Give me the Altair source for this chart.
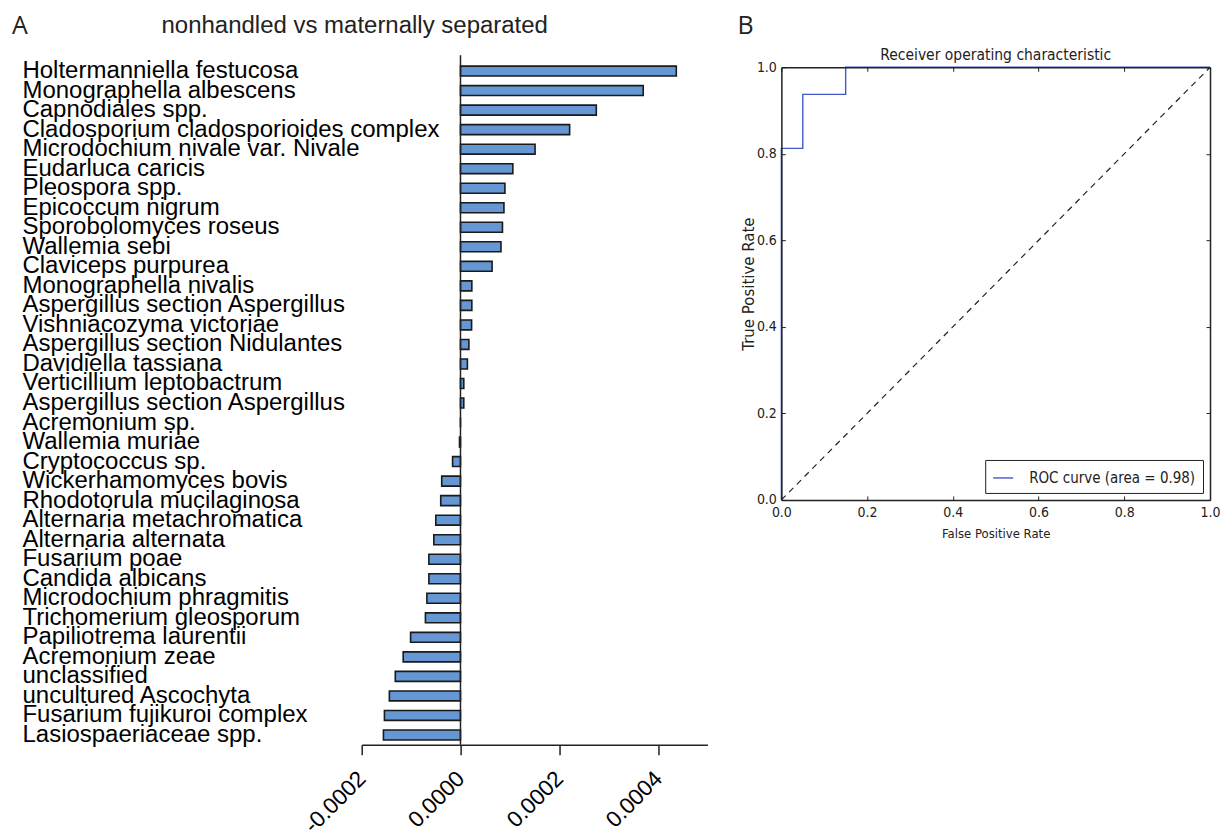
import json
import altair as alt
import pandas as pd

# ---------------- data ----------------
taxa = [
    "Holtermanniella festucosa",
    "Monographella albescens",
    "Capnodiales spp.",
    "Cladosporium cladosporioides complex",
    "Microdochium nivale var. Nivale",
    "Eudarluca caricis",
    "Pleospora spp.",
    "Epicoccum nigrum",
    "Sporobolomyces roseus",
    "Wallemia sebi",
    "Claviceps purpurea",
    "Monographella nivalis",
    "Aspergillus section Aspergillus",
    "Vishniacozyma victoriae",
    "Aspergillus section Nidulantes",
    "Davidiella tassiana",
    "Verticillium leptobactrum",
    "Aspergillus section Aspergillus",
    "Acremonium sp.",
    "Wallemia muriae",
    "Cryptococcus sp.",
    "Wickerhamomyces bovis",
    "Rhodotorula mucilaginosa",
    "Alternaria metachromatica",
    "Alternaria alternata",
    "Fusarium poae",
    "Candida albicans",
    "Microdochium phragmitis",
    "Trichomerium gleosporum",
    "Papiliotrema laurentii",
    "Acremonium zeae",
    "unclassified",
    "uncultured Ascochyta",
    "Fusarium fujikuroi complex",
    "Lasiospaeriaceae spp.",
]
importance = [
    0.000437, 0.000370, 0.000275, 0.000221, 0.000151, 0.000106, 0.000090,
    0.000088, 0.000085, 0.000082, 0.000064, 0.000023, 0.000023, 0.0000225,
    0.000017, 0.000014, 0.0000067, 0.0000067, 0.0, -0.000002, -0.000016,
    -0.000038, -0.000040, -0.000050, -0.000054, -0.000064, -0.000064,
    -0.000068, -0.000071, -0.000101, -0.000116, -0.000132, -0.000144,
    -0.000154, -0.000156,
]
bar_ticks = [-0.0002, 0.0, 0.0002, 0.0004]
title_a = "nonhandled vs maternally separated"

fpr = [0.0, 0.0, 0.05, 0.05, 0.15, 0.15, 1.0]
tpr = [0.0, 0.8125, 0.8125, 0.9375, 0.9375, 1.0, 1.0]
chance = [0.0, 1.0]
roc_ticks = [0.0, 0.2, 0.4, 0.6, 0.8, 1.0]
roc_label = "ROC curve (area = 0.98)"
title_b = "Receiver operating characteristic"

# ---------------- panel A ----------------
W_A, H_A = 346, 678
SANS = "Liberation Sans"

bars_df = pd.DataFrame({"idx": list(range(len(taxa))), "taxon": taxa, "value": importance})
label_expr = json.dumps(taxa) + "[datum.value]"
x_label_expr = ("datum.value < 0 ? '-' + format(-datum.value, '.4f') "
                ": format(datum.value, '.4f')")

bars = alt.Chart(bars_df).mark_bar(
    fill="#6497d3", stroke="#1a1a1a", strokeWidth=1.6
).encode(
    x=alt.X(
        "value:Q",
        scale=alt.Scale(domain=[-0.0002, 0.0005], nice=False),
        axis=alt.Axis(
            values=bar_ticks, labelExpr=x_label_expr, labelAngle=315,
            labelAlign="right", labelBaseline="middle", labelFont=SANS,
            labelFontSize=22.5, labelColor="black", labelPadding=20,
            labelFlush=False, tickSize=10, tickColor="#222", tickWidth=1.5,
            domainColor="#222", domainWidth=1.5, grid=False, title=None,
        ),
    ),
    y=alt.Y(
        "idx:O",
        scale=alt.Scale(paddingInner=0.49, paddingOuter=0.245, range=[-6, H_A]),
        axis=alt.Axis(
            labelExpr=label_expr, labelAlign="left", labelBaseline="middle",
            labelPadding=340, ticks=False, tickSize=0, domain=False,
            labelFont=SANS, labelFontSize=24, labelColor="black",
            labelLimit=600, title=None,
        ),
    ),
    tooltip=["taxon:N", "value:Q"],
)

zero_line = alt.Chart(pd.DataFrame({"z": [0.0]})).mark_rule(
    color="#222", strokeWidth=1.5
).encode(x="z:Q", y=alt.value(-12), y2=alt.value(H_A))

letter_a = alt.Chart(pd.DataFrame({"t": ["A"]})).mark_text(
    align="left", baseline="middle", font="Open Sans", fontSize=25, color="#222"
).encode(text="t:N", x=alt.value(-350), y=alt.value(-41))

heading_a = alt.Chart(pd.DataFrame({"t": [title_a]})).mark_text(
    align="center", baseline="alphabetic", font=SANS, fontSize=24, color="#222"
).encode(text="t:N", x=alt.value(-7), y=alt.value(-34))

panel_a = alt.layer(bars, zero_line, letter_a, heading_a).properties(
    width=W_A, height=H_A,
)

# ---------------- panel B ----------------
W_B, H_B = 429, 433
COND = "DejaVu Sans Condensed, DejaVu Sans"

roc_df = pd.DataFrame({"order": list(range(len(fpr))), "fpr": fpr, "tpr": tpr,
                       "series": [roc_label] * len(fpr)})
diag_df = pd.DataFrame({"x": chance, "y": chance})

x_scale_b = alt.Scale(domain=[0, 1], nice=False)
y_scale_b = alt.Scale(domain=[0, 1], nice=False)

x_axis_b = alt.Axis(
    values=roc_ticks, format=".1f", title="False Positive Rate",
    grid=True, gridDash=[4, H_B - 8], gridColor="#222", gridWidth=1,
    ticks=False, tickSize=0, domain=True, domainColor="#222", domainWidth=1.5,
    labelFlush=False, labelPadding=6,
    labelFont=COND, labelFontSize=14, labelColor="#222",
    titleFont=COND, titleFontSize=13, titleFontWeight="normal",
    titleColor="#222", titlePadding=8, zindex=1,
)
y_axis_b = alt.Axis(
    values=roc_ticks, format=".1f", title="True Positive Rate",
    grid=True, gridDash=[4, W_B - 8], gridColor="#222", gridWidth=1,
    ticks=False, tickSize=0, domain=True, domainColor="#222", domainWidth=1.5,
    labelFlush=False, labelPadding=5,
    labelFont=COND, labelFontSize=14, labelColor="#222",
    titleFont="DejaVu Sans", titleFontSize=15, titleFontWeight="normal",
    titleColor="#222", titlePadding=0, zindex=1,
)
x_axis_top = alt.Axis(
    orient="top", labels=False, ticks=False, tickSize=0, grid=False,
    domain=True, domainColor="#222", domainWidth=1.5, title=None, zindex=1,
)
y_axis_right = alt.Axis(
    orient="right", labels=False, ticks=False, tickSize=0, grid=False,
    domain=True, domainColor="#222", domainWidth=1.5, title=None, zindex=1,
)

diag_line = alt.Chart(diag_df).mark_line(
    color="#222", strokeDash=[6, 5], strokeWidth=1.2
).encode(
    x=alt.X("x:Q", scale=x_scale_b, axis=x_axis_b),
    y=alt.Y("y:Q", scale=y_scale_b, axis=y_axis_b),
)

roc_line = alt.Chart(roc_df).mark_line(strokeWidth=1.4).encode(
    x=alt.X("fpr:Q", scale=x_scale_b, axis=x_axis_top),
    y=alt.Y("tpr:Q", scale=y_scale_b, axis=y_axis_right),
    order="order:Q",
    color=alt.Color(
        "series:N", scale=alt.Scale(range=["#4258c8"]),
        legend=alt.Legend(
            title=None, orient="bottom-right", offset=7, symbolType="stroke",
            symbolSize=400, symbolStrokeWidth=1.4, labelFont=COND,
            labelFontSize=15, labelColor="#222", labelOffset=15,
            labelLimit=600, strokeColor="#222", fillColor="white", padding=7,
        ),
    ),
)

letter_b = alt.Chart(pd.DataFrame({"t": ["B"]})).mark_text(
    align="left", baseline="middle", font="Open Sans", fontSize=25, color="#222"
).encode(text="t:N", x=alt.value(-44), y=alt.value(-41))

heading_b = alt.Chart(pd.DataFrame({"t": [title_b]})).mark_text(
    align="center", baseline="alphabetic", font=COND, fontSize=15.5, color="#222"
).encode(text="t:N", x=alt.value(W_B / 2), y=alt.value(-7))

panel_b = alt.layer(diag_line, roc_line, letter_b, heading_b).resolve_axis(
    x="independent", y="independent"
).properties(width=W_B, height=H_B)

chart = alt.hconcat(panel_a, panel_b, spacing=30).resolve_scale(
    color="independent"
).properties(
    padding={"left": 12, "top": 14, "right": 0, "bottom": 0},
    background="white",
).configure_view(strokeWidth=0)

chart.save("out.html", embed_options={"renderer": "svg", "actions": False})
